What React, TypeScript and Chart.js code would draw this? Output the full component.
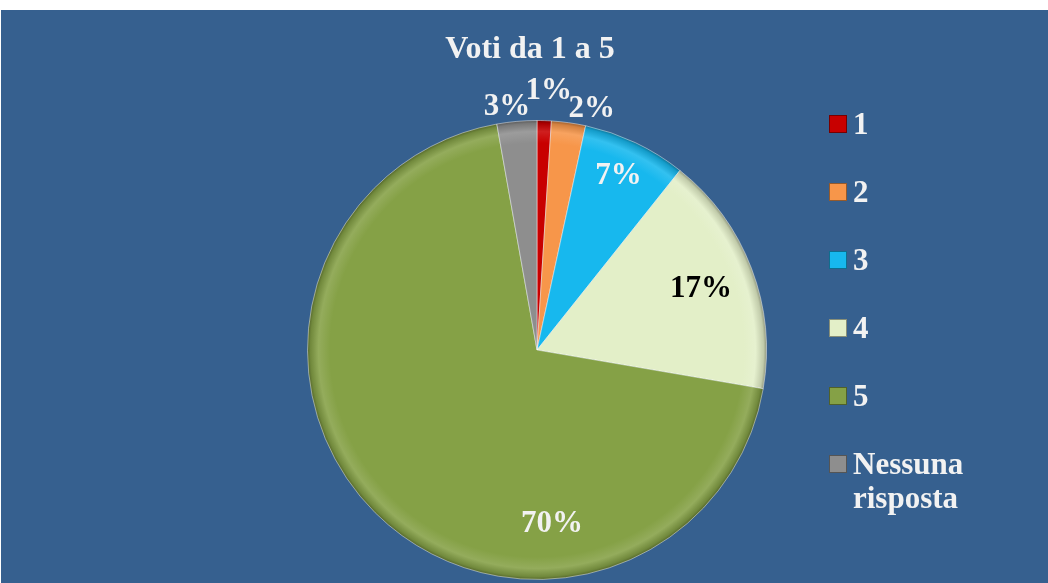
import React, { useEffect, useRef } from "react";
import { Chart, registerables } from "chart.js";

Chart.register(...registerables);

const TITLE = "Voti da 1 a 5";
const categories = ["1", "2", "3", "4", "5", "Nessuna\nrisposta"];
const percentValues = [1.0, 2.4, 7.3, 17.0, 69.5, 2.8];
const sliceColors = ["#C80000", "#F7964A", "#17B8EE", "#E3EFC8", "#85A146", "#8E8E8E"];
const labelColors = ["#F2F2F2", "#F2F2F2", "#F2F2F2", "#000000", "#F2F2F2", "#F2F2F2"];
// label placement: radius factor and angular shift (deg) relative to slice middle
const labelRadius = [1.136, 1.083, 0.84, 0.764, 0.757, 1.07];
const labelShift = [0.8, 4.8, -0.4, 0.2, -49.8, -2.0];

const FONT = "'Liberation Serif', 'Times New Roman', serif";

function shade(hex: string, amt: number) {
  const n = parseInt(hex.slice(1), 16);
  let r = (n >> 16) & 255, g = (n >> 8) & 255, b = n & 255;
  const f = (c: number) => Math.max(0, Math.min(255, Math.round(amt >= 0 ? c + (255 - c) * amt : c * (1 + amt))));
  return `rgb(${f(r)},${f(g)},${f(b)})`;
}

const labelPlugin = {
  id: "sliceLabels",
  afterDatasetsDraw(chart: any) {
    const ctx = chart.ctx;
    const meta = chart.getDatasetMeta(0);
    const area = chart.chartArea;
    ctx.save();
    ctx.font = `bold 32px ${FONT}`;
    ctx.fillStyle = "#F2F2F2";
    ctx.textAlign = "center";
    ctx.textBaseline = "middle";
    const cx0 = (area.left + area.right) / 2;
    ctx.fillText(TITLE, cx0 - 7, 40);
    ctx.font = `bold 31px ${FONT}`;
    meta.data.forEach((arc: any, i: number) => {
      const p = arc.getProps(["x", "y", "startAngle", "endAngle", "outerRadius"], true);
      const mid = (p.startAngle + p.endAngle) / 2 + (labelShift[i] * Math.PI) / 180;
      const r = p.outerRadius * labelRadius[i];
      const x = p.x + Math.cos(mid) * r;
      const y = p.y + Math.sin(mid) * r;
      ctx.fillStyle = labelColors[i];
      ctx.fillText(`${Math.round(percentValues[i])}%`, x, y + 1);
    });
    ctx.restore();
  },
};

export default function App() {
  const ref = useRef<HTMLCanvasElement | null>(null);
  useEffect(() => {
    if (!ref.current) return;
    const chart = new Chart(ref.current, {
      type: "pie",
      data: {
        labels: categories,
        datasets: [
          {
            data: percentValues,
            backgroundColor: (c: any) => {
              const base = sliceColors[c.dataIndex];
              const chartObj = c.chart;
              const a = chartObj.chartArea;
              if (!a) return base;
              const cx = (a.left + a.right) / 2;
              const cy = (a.top + a.bottom) / 2;
              const R = Math.min(a.right - a.left, a.bottom - a.top) / 2;
              const g = chartObj.ctx.createRadialGradient(cx, cy, 0, cx, cy, R);
              g.addColorStop(0, base);
              g.addColorStop(0.9, base);
              g.addColorStop(0.95, shade(base, 0.12));
              g.addColorStop(0.985, shade(base, -0.15));
              g.addColorStop(1, shade(base, -0.4));
              return g;
            },
            borderColor: "rgba(255,255,255,0.45)",
            borderWidth: 1,
          },
        ],
      },
      options: {
        animation: false,
        responsive: true,
        maintainAspectRatio: false,
        layout: { padding: { left: 306, right: 281, top: 110, bottom: 3 } },
        plugins: {
          legend: { display: false },
          tooltip: { enabled: false },
          title: { display: false },
        },
      },
      plugins: [labelPlugin],
    });
    return () => chart.destroy();
  }, []);

  return (
    <div
      style={{
        position: "fixed",
        left: 1,
        top: 10,
        width: 1047,
        height: 573,
        background: "#36608F",
      }}
    >
      <canvas ref={ref} style={{ position: "absolute", left: 0, top: 0 }} />
      <div
        style={{
          position: "absolute",
          left: 828,
          top: 97,
          fontFamily: FONT,
          fontWeight: "bold",
          fontSize: 31,
          lineHeight: "34px",
          color: "#F2F2F2",
        }}
      >
        {categories.map((c, i) => (
          <div key={c} style={{ display: "flex", alignItems: "flex-start", marginBottom: 34 }}>
            <div
              style={{
                width: 16,
                height: 16,
                marginTop: 8,
                marginRight: 6,
                background: sliceColors[i],
                border: `1px solid ${shade(sliceColors[i], -0.4)}`,
                flex: "none",
              }}
            />
            <div style={{ whiteSpace: "pre" }}>{c}</div>
          </div>
        ))}
      </div>
    </div>
  );
}
